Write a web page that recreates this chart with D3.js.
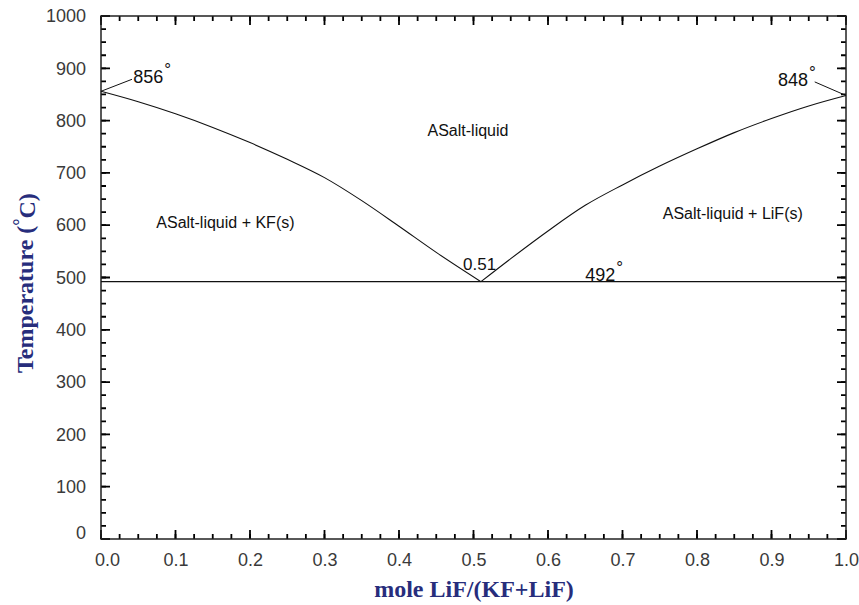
<!DOCTYPE html>
<html>
<head>
<meta charset="utf-8">
<script src="https://cdn.jsdelivr.net/npm/d3@7"></script>
<style>
  body { margin: 0; background: #fff; }
  svg { display: block; }
  .tick text { font-family: "Liberation Sans", Arial, sans-serif; font-size: 18px; fill: #3a3a3a; }
  .lbl { font-family: "Liberation Sans", Arial, sans-serif; fill: #111; }
  .title { font-family: "Liberation Serif", "Times New Roman", serif; font-weight: bold; font-size: 24px; fill: #272d7c; }
</style>
</head>
<body>
<div id="chart"></div>
<script>
// liquidus, KF side (mole fraction LiF, temperature in C)
const compLeft = [0, 0.05, 0.1, 0.15, 0.2, 0.25, 0.3, 0.35, 0.4, 0.45, 0.51];
const tempLeft = [856, 836, 813, 787, 758, 726, 691, 647, 598, 548, 492];
// liquidus, LiF side
const compRight = [0.51, 0.55, 0.6, 0.65, 0.7, 0.75, 0.8, 0.85, 0.9, 0.95, 1.0];
const tempRight = [492, 536, 589, 638, 677, 713, 746, 777, 804, 828, 848];
// eutectic
const eutecticX = 0.51;
const eutecticT = 492;

const xTicks = [0, 0.1, 0.2, 0.3, 0.4, 0.5, 0.6, 0.7, 0.8, 0.9, 1.0];
const yTicks = [0, 100, 200, 300, 400, 500, 600, 700, 800, 900, 1000];

// region labels [x, T, text]
const regionLabels = [
  [0.4926, 782, "ASalt-liquid"],
  [0.167, 606, "ASalt-liquid + KF(s)"],
  [0.848, 623, "ASalt-liquid + LiF(s)"]
];

var margin = {top: 16, right: 13, bottom: 66, left: 101},
    width = 859 - margin.left - margin.right,
    height = 605 - margin.top - margin.bottom;

var svg = d3.select("#chart")
  .append("svg")
  .attr("width", 859)
  .attr("height", 605)
  .append("g")
  .attr("transform", "translate(" + margin.left + "," + margin.top + ")");

var x = d3.scaleLinear().domain([0, 1]).range([0, width]);
var y = d3.scaleLinear().domain([0, 1000]).range([height, 0]);

var minorX = d3.range(0, 41).map(d => d * 0.025);
var minorY = d3.range(0, 41).map(d => d * 25);

// tick labels through the axis generators
var xAxis = svg.append("g").attr("transform", "translate(0," + height + ")")
  .call(d3.axisBottom(x).tickValues(xTicks).tickSize(0).tickPadding(14).tickFormat(d3.format(".1f")));
xAxis.select(".domain").remove();
xAxis.selectAll(".tick text").filter(d => d === 0).attr("x", 6);

var yAxis = svg.append("g")
  .call(d3.axisLeft(y).tickValues(yTicks).tickSize(0).tickPadding(15).tickFormat(d3.format("d")));
yAxis.select(".domain").remove();
yAxis.selectAll(".tick text").filter(d => d === 0).attr("y", -6);

// inward tick marks on all four sides
var tickG = svg.append("g")
  .attr("fill", "none")
  .attr("stroke", "#000")
  .attr("stroke-width", 1.8);

function tickPath(vals, len, side){
  tickG.append("path")
    .attr("d", vals.map(function(v){
      if (side === "bottom") return "M" + x(v) + "," + height + "v" + (-len);
      if (side === "top") return "M" + x(v) + ",0v" + len;
      if (side === "left") return "M0," + y(v) + "h" + len;
      return "M" + width + "," + y(v) + "h" + (-len);
    }).join(""));
}
["bottom", "top"].forEach(s => { tickPath(minorX, 5, s); tickPath(xTicks, 9, s); });
["left", "right"].forEach(s => { tickPath(minorY, 5, s); tickPath(yTicks, 9, s); });

// frame
svg.append("rect")
  .attr("width", width).attr("height", height)
  .attr("fill", "none").attr("stroke", "#222").attr("stroke-width", 1.5);

var line = d3.line().x(d => x(d[0])).y(d => y(d[1]));
var curve = d3.line().x(d => x(d[0])).y(d => y(d[1])).curve(d3.curveMonotoneX);

svg.append("path")
  .datum(compLeft.map((c, i) => [c, tempLeft[i]]))
  .attr("d", curve).attr("fill", "none").attr("stroke", "#111").attr("stroke-width", 1.1);
svg.append("path")
  .datum(compRight.map((c, i) => [c, tempRight[i]]))
  .attr("d", curve).attr("fill", "none").attr("stroke", "#111").attr("stroke-width", 1.1);

// eutectic line
svg.append("path")
  .datum([[0, eutecticT], [1, eutecticT]])
  .attr("d", line).attr("fill", "none").attr("stroke", "#111").attr("stroke-width", 1.2);

// melting point leaders
svg.append("path")
  .datum([[0, tempLeft[0]], [0.0416, 879]])
  .attr("d", line).attr("fill", "none").attr("stroke", "#111").attr("stroke-width", 1);
svg.append("path")
  .datum([[1, tempRight[tempRight.length - 1]], [0.958, 874]])
  .attr("d", line).attr("fill", "none").attr("stroke", "#111").attr("stroke-width", 1);

function degLabel(xv, tv, txt, anchor){
  var t = svg.append("text").attr("class", "lbl")
    .attr("x", x(xv)).attr("y", y(tv))
    .attr("text-anchor", anchor)
    .style("font-size", "18px")
    .text(txt);
  t.append("tspan").attr("dy", "-0.5em").attr("dx", "1").style("font-size", "17px").text("°");
}
degLabel(0.0432, 871, tempLeft[0], "start");
degLabel(0.9595, 866, tempRight[tempRight.length - 1], "end");
degLabel(0.65, 493, eutecticT, "start");

svg.append("text").attr("class", "lbl")
  .attr("x", x(0.486)).attr("y", y(514))
  .style("font-size", "17px")
  .text(eutecticX.toFixed(2));

svg.selectAll(".region")
  .data(regionLabels)
  .enter()
  .append("text")
  .attr("class", "lbl")
  .attr("x", d => x(d[0]))
  .attr("y", d => y(d[1]))
  .attr("dy", "0.35em")
  .attr("text-anchor", "middle")
  .style("font-size", "16px")
  .text(d => d[2]);

// axis titles
svg.append("text").attr("class", "title")
  .attr("x", 474 - margin.left).attr("y", 597 - margin.top)
  .attr("text-anchor", "middle")
  .text("mole LiF/(KF+LiF)");

var yt = svg.append("text").attr("class", "title")
  .attr("transform", "translate(" + (33 - margin.left) + "," + (373 - margin.top) + ") rotate(-90)")
  .attr("text-anchor", "start")
  .text("Temperature (");
yt.append("tspan").attr("dy", "-0.4em").style("font-size", "18px").text("°");
yt.append("tspan").attr("dy", "0.4em").text("C)");
</script>
</body>
</html>
